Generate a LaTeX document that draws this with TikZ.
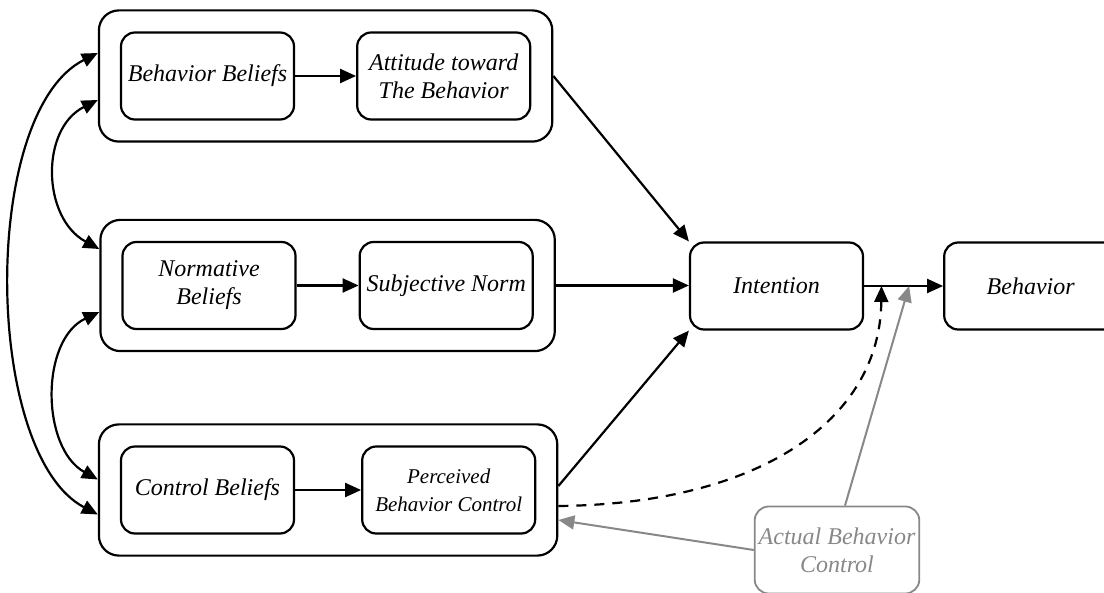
\documentclass[tikz,border=0pt]{standalone}
\usepackage{fontspec}
\setmainfont{Liberation Serif}
\usepackage{xcolor}
\usetikzlibrary{arrows.meta,positioning,fit,calc}
\definecolor{ctlgray}{RGB}{136,136,136}

\begin{document}
\begin{tikzpicture}[
  x=0.5pt,y=-0.5pt,
  font=\fontsize{12}{14}\selectfont\itshape,
  box/.style={draw,line width=1.1pt,align=center,inner sep=2pt,rounded corners=7pt,minimum width=86.5pt,minimum height=43.5pt},
  group/.style={draw,line width=1.1pt,rounded corners=10pt,inner sep=10.5pt},
  arr/.style={-{Triangle[length=8pt,width=7pt]},line width=1.1pt},
  twoarr/.style={{Triangle[length=8pt,width=7pt]}-{Triangle[length=8pt,width=7pt]},line width=1.1pt},
  grayarr/.style={arr,draw=ctlgray,line width=1pt}
]
\useasboundingbox (0,0) rectangle (1104,593);
\node[box] (bb) at (207.5,76) {Behavior Beliefs};
\node[box,right=30.5pt of bb] (att) {Attitude toward\\The Behavior};
\node[box] (nb) at (209,285.5) {Normative\\Beliefs};
\node[box,right=31pt of nb] (sn) {Subjective Norm};
\node[box] (cb) at (207.5,490) {Control Beliefs};
\node[box,right=33pt of cb,font=\fontsize{10.5}{14}\selectfont\itshape] (pbc) {Perceived\\Behavior Control};
\node[group,fit=(bb)(att)] (o1) {};
\node[group,fit=(nb)(sn)] (o2) {};
\node[group,fit=(cb)(pbc)] (o3) {};
\node[box] (int) at (776.5,286) {Intention};
\node[box,right=39.5pt of int] (beh) {Behavior};
\node[box,draw=ctlgray,text=ctlgray,line width=0.9pt,minimum width=82pt] (abc) at (837,550) {Actual Behavior\\Control};
\coordinate (m1) at ($(int.east)!0.22!(beh.west)$);
\coordinate (m2) at ($(int.east)!0.57!(beh.west)$);
\draw[arr] (bb)--(att); \draw[arr] (nb)--(sn); \draw[arr] (cb)--(pbc);
\draw[arr] (o1.east)--(int.north west);
\draw[arr] (o2.east)--(o2.east-|int.west);
\draw[arr] ([yshift=2pt]o3.east)--(int.south west);
\draw[arr] (int.east)--(beh.west);
\draw[arr,dash pattern=on 5pt off 4pt] ([yshift=-8pt]o3.east) .. controls (760,504) and (880,420) .. (m1);
\draw[grayarr] ([xshift=4pt]abc.north)--(m2);
\draw[grayarr] (abc.west)--([yshift=-15pt]o3.east);
% correlations between the belief groups
\draw[twoarr] ([yshift=11.5pt]o1.west) .. controls (-20,112) and (-17,454) .. ([yshift=-12.25pt]o3.west);
\draw[twoarr] ([yshift=-12pt]o1.west) .. controls (40,129) and (42,218) .. ([yshift=18.25pt]o2.west);
\draw[twoarr] ([yshift=-13.25pt]o2.west) .. controls (40,340) and (41,448) .. ([yshift=5.25pt]o3.west);
\end{tikzpicture}
\end{document}
